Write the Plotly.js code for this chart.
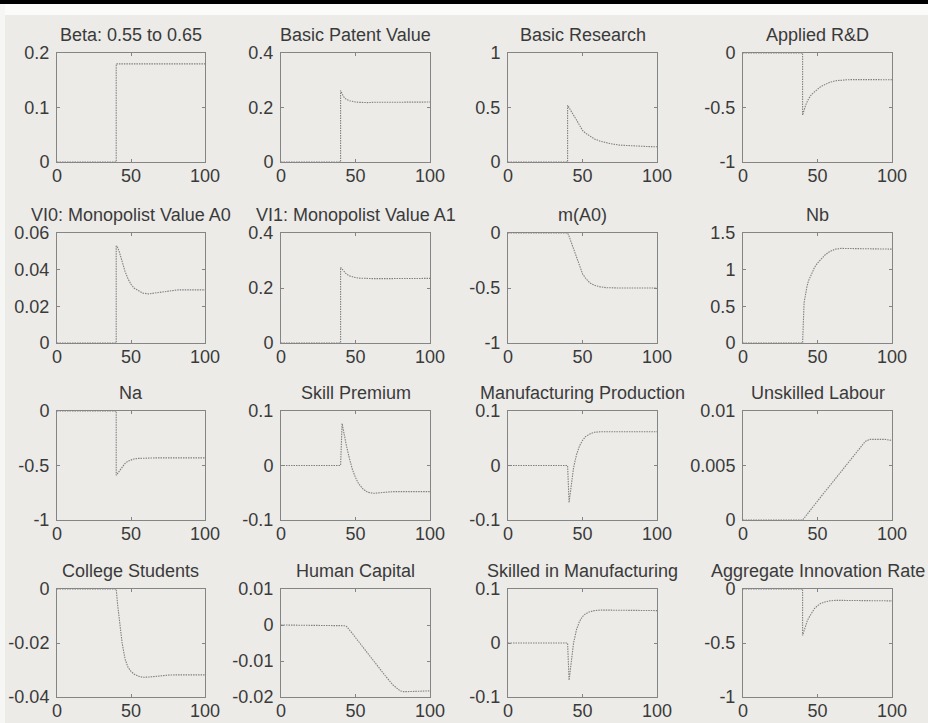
<!DOCTYPE html>
<html>
<head>
<meta charset="utf-8">
<script src="https://cdn.plot.ly/plotly-3.0.1.min.js"></script>
<style>
html,body{margin:0;padding:0;background:#ecebe8;}
#chart{width:928px;height:723px;}
</style>
</head>
<body>
<div id="chart"></div>
<script>
// ---- data ----
const time = [0,40,40,41,42,43,44,46,48,50,52,55,58,62,66,70,75,80,82,85,90,95,100];

const titles = ["Beta: 0.55 to 0.65","Basic Patent Value","Basic Research","Applied R&D",
  "VI0: Monopolist Value A0","VI1: Monopolist Value A1","m(A0)","Nb",
  "Na","Skill Premium","Manufacturing Production","Unskilled Labour",
  "College Students","Human Capital","Skilled in Manufacturing","Aggregate Innovation Rate"];

const beta = [0,0,0.18,0.18,0.18,0.18,0.18,0.18,0.18,0.18,0.18,0.18,0.18,0.18,0.18,0.18,0.18,0.18,0.18,0.18,0.18,0.18,0.18];
const basicPatentValue = [0,0,0.262,0.25,0.24,0.234,0.229,0.225,0.222,0.22,0.219,0.218,0.218,0.219,0.219,0.22,0.22,0.22,0.22,0.22,0.22,0.22,0.22];
const basicResearch = [0,0,0.52,0.5,0.475,0.45,0.43,0.385,0.34,0.29,0.265,0.235,0.212,0.19,0.175,0.165,0.155,0.15,0.148,0.146,0.143,0.141,0.14];
const appliedRD = [0,0,-0.57,-0.52,-0.48,-0.45,-0.42,-0.38,-0.355,-0.33,-0.31,-0.29,-0.27,-0.255,-0.248,-0.245,-0.244,-0.244,-0.244,-0.245,-0.245,-0.245,-0.245];
const vi0 = [0,0,0.053,0.052,0.05,0.047,0.044,0.039,0.035,0.032,0.03,0.0285,0.0272,0.0268,0.0272,0.0278,0.0285,0.029,0.029,0.029,0.029,0.029,0.029];
const vi1 = [0,0,0.275,0.268,0.26,0.254,0.25,0.244,0.24,0.238,0.236,0.235,0.234,0.234,0.234,0.234,0.235,0.235,0.235,0.235,0.235,0.235,0.235];
const mA0 = [0,0,0,-0.03,-0.07,-0.11,-0.15,-0.23,-0.3,-0.37,-0.41,-0.455,-0.475,-0.49,-0.497,-0.5,-0.5,-0.5,-0.5,-0.5,-0.5,-0.5,-0.5];
const nb = [0,0,0,0.55,0.7,0.78,0.85,0.95,1.03,1.09,1.14,1.2,1.245,1.28,1.29,1.29,1.29,1.285,1.285,1.283,1.28,1.28,1.28];
const na = [0,0,-0.59,-0.57,-0.55,-0.53,-0.51,-0.48,-0.46,-0.448,-0.44,-0.435,-0.432,-0.43,-0.43,-0.43,-0.43,-0.43,-0.43,-0.43,-0.43,-0.43,-0.43];
const skillPremium = [0,0,0,0.077,0.062,0.048,0.035,0.012,-0.008,-0.022,-0.033,-0.043,-0.049,-0.051,-0.05,-0.049,-0.048,-0.048,-0.048,-0.048,-0.048,-0.048,-0.048];
const manufProduction = [0,0,0,-0.068,-0.045,-0.022,-0.004,0.02,0.036,0.046,0.053,0.058,0.061,0.062,0.062,0.062,0.062,0.062,0.062,0.062,0.062,0.062,0.062];
const unskilledLabour = [0,0,0,0.00017,0.00035,0.00052,0.0007,0.00105,0.0014,0.00175,0.0021,0.0026,0.0031,0.0038,0.0045,0.0052,0.006,0.0069,0.0072,0.0074,0.0074,0.0074,0.0073];
const collegeStudents = [0,0,0,-0.006,-0.011,-0.016,-0.02,-0.026,-0.029,-0.0305,-0.0315,-0.0323,-0.0327,-0.0326,-0.0323,-0.032,-0.0319,-0.0318,-0.0318,-0.0318,-0.0318,-0.0318,-0.0318];
const humanCapital = [0,0,0,0,-0.0001,-0.0002,-0.0004,-0.0013,-0.0024,-0.0035,-0.0046,-0.0062,-0.0078,-0.0099,-0.012,-0.0141,-0.0166,-0.0183,-0.0185,-0.0185,-0.0185,-0.0184,-0.0183];
const skilledManuf = [0,0,0,-0.069,-0.045,-0.02,0.0,0.025,0.04,0.049,0.054,0.058,0.06,0.061,0.061,0.06,0.06,0.06,0.06,0.06,0.06,0.06,0.06];
const aggInnovation = [0,0,-0.43,-0.38,-0.34,-0.3,-0.27,-0.22,-0.18,-0.155,-0.135,-0.12,-0.11,-0.105,-0.105,-0.106,-0.107,-0.108,-0.108,-0.109,-0.11,-0.11,-0.11];

const series = [beta,basicPatentValue,basicResearch,appliedRD,vi0,vi1,mA0,nb,na,skillPremium,manufProduction,unskilledLabour,collegeStudents,humanCapital,skilledManuf,aggInnovation];

const xRange = [0,100];
const xTickVals = [0,50,100];
const xTickText = ["0","50","100"];

const yRanges = [[0,0.2],[0,0.4],[0,1],[-1,0],[0,0.06],[0,0.4],[-1,0],[0,1.5],[-1,0],[-0.1,0.1],[-0.1,0.1],[0,0.01],[-0.04,0],[-0.02,0.01],[-0.1,0.1],[-1,0]];
const yTickVals = [[0,0.1,0.2],[0,0.2,0.4],[0,0.5,1],[-1,-0.5,0],[0,0.02,0.04,0.06],[0,0.2,0.4],[-1,-0.5,0],[0,0.5,1,1.5],[-1,-0.5,0],[-0.1,0,0.1],[-0.1,0,0.1],[0,0.005,0.01],[-0.04,-0.02,0],[-0.02,-0.01,0,0.01],[-0.1,0,0.1],[-1,-0.5,0]];
const yTickText = [["0","0.1","0.2"],["0","0.2","0.4"],["0","0.5","1"],["-1","-0.5","0"],["0","0.02","0.04","0.06"],["0","0.2","0.4"],["-1","-0.5","0"],["0","0.5","1","1.5"],["-1","-0.5","0"],["-0.1","0","0.1"],["-0.1","0","0.1"],["0","0.005","0.01"],["-0.04","-0.02","0"],["-0.02","-0.01","0","0.01"],["-0.1","0","0.1"],["-1","-0.5","0"]];

// ---- layout geometry (pixels) ----
const W = 928, H = 723;
const colPx = [[57,205],[281,430],[508,657],[743,892]];
const rowPx = [[53,162],[233,343],[411,520],[589,697]];

const FONT = "Liberation Sans, Arial, Helvetica, sans-serif";
const TXT = "#3a3a3a";
const FRAME = "#858585";
const BG = "#ecebe8";

const traces = [];
const layout = {
  width: W, height: H,
  margin: {l:0, r:0, t:0, b:0},
  paper_bgcolor: BG, plot_bgcolor: BG,
  showlegend: false,
  annotations: [],
  shapes: [
    {type:'rect', xref:'paper', yref:'paper', x0:0, x1:1, y0:1-15/H, y1:1-4/H, fillcolor:'#fbfbfa', line:{width:0}, layer:'below'},
    {type:'rect', xref:'paper', yref:'paper', x0:0, x1:1, y0:1-4/H, y1:1, fillcolor:'#000000', line:{width:0}, layer:'above'},
    {type:'rect', xref:'paper', yref:'paper', x0:0, x1:5/W, y0:0, y1:1-4/H, fillcolor:'#f6f6f4', line:{width:0}, layer:'below'}
  ]
};

for (let i = 0; i < 16; i++) {
  const r = Math.floor(i/4), c = i % 4;
  const n = i + 1;
  const xs = n === 1 ? '' : String(n);
  const xd = [colPx[c][0]/W, colPx[c][1]/W];
  const yd = [1 - rowPx[r][1]/H, 1 - rowPx[r][0]/H];
  traces.push({
    type: 'scatter', mode: 'lines',
    x: time, y: series[i],
    xaxis: 'x' + xs, yaxis: 'y' + xs,
    line: {color: '#808080', width: 1.1, dash: '1.5px,1px'},
    hoverinfo: 'skip'
  });
  const common = {
    ticks: 'inside', ticklen: 3, tickwidth: 1, tickcolor: FRAME,
    showline: true, linecolor: FRAME, linewidth: 1, mirror: 'ticks',
    showgrid: false, zeroline: false,
    tickfont: {family: FONT, size: 18, color: TXT},
    fixedrange: true
  };
  layout['xaxis' + xs] = Object.assign({}, common, {
    domain: xd, range: xRange, tickmode: 'array', tickvals: xTickVals, ticktext: xTickText,
    anchor: 'y' + xs, ticklabelstandoff: -3
  });
  layout['yaxis' + xs] = Object.assign({}, common, {
    domain: yd, range: yRanges[i], tickmode: 'array', tickvals: yTickVals[i], ticktext: yTickText[i],
    anchor: 'x' + xs, ticklabelstandoff: 3
  });
  layout.annotations.push({
    xref: 'paper', yref: 'paper', x: (xd[0]+xd[1])/2, y: yd[1],
    xanchor: 'center', yanchor: 'bottom', yshift: 6, showarrow: false,
    text: titles[i], font: {family: FONT, size: 18, color: TXT}
  });
}

Plotly.newPlot('chart', traces, layout, {staticPlot: true, displayModeBar: false});
</script>
</body>
</html>
